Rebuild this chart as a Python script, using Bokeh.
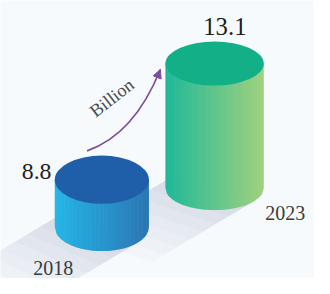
import math
import numpy as np
from bokeh.plotting import figure
from bokeh.models import Range1d, Arrow, NormalHead
from bokeh.core.properties import value
from bokeh.embed import file_html
from bokeh.resources import INLINE

# ---- data ----
years = ["2018", "2023"]
values = [8.8, 13.1]
value_labels = ["8.8", "13.1"]
unit_label = "Billion"

# ---- layout / style constants (offsets below are in reference pixels) ----
W, H = 314, 278
REF_W, REF_H = 330, 294
FS = W / REF_W               # font scale
X0, X1 = -0.8987, 1.886
Y0, Y1 = 3.294, 18.783
PXX = (X1 - X0) / REF_W      # data units per reference px (x)
PXY = (Y1 - Y0) / REF_H      # data units per reference px (y)
BASE = 6.165                 # value at cylinder floor
DEPTH = [0.0, 2.17]          # perspective lift of each cylinder
POS = [0, 1]
RX_PX = [49.5, 51.7]
RY_PX = [25.5, 23.3]
BODY = [("#25b6e8", "#2b76b3"), ("#1fb998", "#9fd17f")]
TOPS = ["#1f5fa9", "#13b088"]
BG = "#f6fafd"
PURPLE = "#7e4c9f"
SERIF = value("Liberation Serif")


def hex_rgb(h):
    h = h.lstrip("#")
    return tuple(int(h[i:i + 2], 16) for i in (0, 2, 4))


def mix(c1, c2, t):
    a, b = hex_rgb(c1), hex_rgb(c2)
    return "#%02x%02x%02x" % tuple(int(round(a[k] + (b[k] - a[k]) * t)) for k in range(3))


def fpx(n):
    return value("%.1fpx" % (n * FS))


p = figure(width=W, height=H, x_range=Range1d(X0, X1), y_range=Range1d(Y0, Y1),
           x_axis_type=None, y_axis_type=None, toolbar_location=None,
           output_backend="svg", min_border=0, background_fill_color=BG,
           border_fill_color=BG, outline_line_color=None)

tops = [v + d for v, d in zip(values, DEPTH)]
bases = [BASE + d for d in DEPTH]

# ---- shadows ----
dvec = np.array([-1.0, 0.6])
dvec = dvec / np.linalg.norm(dvec)
sx, sy = [], []
for i in range(len(values)):
    a, b = RX_PX[i], RY_PX[i]
    t = math.atan2(b, 0.6 * a)
    lr = np.array([a * math.cos(t), b * math.sin(t)])
    ul = -lr
    for j in range(1, 9):
        L = 125 * j / 8
        pts = [ul, lr, lr + L * dvec, ul + L * dvec]
        sx.append([POS[i] + q[0] * PXX for q in pts])
        sy.append([bases[i] - q[1] * PXY for q in pts])
p.patches(sx, sy, fill_color="#30404f", fill_alpha=0.02, line_color=None)

# ---- cylinder bodies (gradient strips) ----
N = 70
bx, by, bc = [], [], []
for i in range(len(values)):
    a = RX_PX[i] * PXX
    b = RY_PX[i] * PXY
    edges = np.linspace(-a, a, N + 1)
    for k in range(N):
        xl = edges[k]
        xr = edges[k + 1]
        xr_d = xr + (0.7 * PXX if k < N - 1 else 0)
        ybl = bases[i] - b * math.sqrt(max(0.0, 1 - (xl / a) ** 2))
        ybr = bases[i] - b * math.sqrt(max(0.0, 1 - (min(xr_d, a) / a) ** 2))
        bx.append([POS[i] + xl, POS[i] + xr_d, POS[i] + xr_d, POS[i] + xl])
        by.append([tops[i], tops[i], ybr, ybl])
        bc.append(mix(BODY[i][0], BODY[i][1], k / (N - 1)))
p.patches(bx, by, fill_color=bc, line_color=None)

# ---- cylinder tops ----
p.ellipse(x=POS, y=tops, width=[2 * r * PXX for r in RX_PX],
          height=[2 * r * PXY for r in RY_PX], fill_color=TOPS, line_color=None)

# ---- growth arrow ----
ax0 = POS[0] - 15.5 * PXX
ay0 = tops[0] + 30.5 * PXY
ax1 = POS[1] - 57 * PXX
ay1 = tops[1] - 6.3 * PXY
acx = ax0 + 49.5 * PXX
acy = ay0 + 17.3 * PXY
p.quadratic(x0=[ax0], y0=[ay0], x1=[ax1], y1=[ay1], cx=[acx], cy=[acy],
            line_color=PURPLE, line_width=1.7)
tdx, tdy = 27.5, 68.7
tn = math.hypot(tdx, tdy)
tdx, tdy = tdx / tn, tdy / tn
p.add_layout(Arrow(end=NormalHead(size=8.5, fill_color=PURPLE, line_color=PURPLE, line_width=1),
                   x_start=ax1 - 8 * tdx * PXX, y_start=ay1 - 8 * tdy * PXY,
                   x_end=ax1, y_end=ay1, line_alpha=0))

# ---- texts ----
p.text(x=[POS[0] - (RX_PX[0] + 3.4) * PXX], y=[tops[0] + 8.5 * PXY], text=[value_labels[0]],
       text_font=SERIF, text_font_size=fpx(25), text_align="right",
       text_baseline="alphabetic", text_color="#1e1e1e")
p.text(x=[POS[1] + 10.8 * PXX], y=[tops[1] + 39.4 * PXY], text=[value_labels[1]],
       text_font=SERIF, text_font_size=fpx(26), text_align="center",
       text_baseline="alphabetic", text_color="#1e1e1e")
p.text(x=[POS[1] + (RX_PX[1] + 1.6) * PXX], y=[bases[1] - 26.2 * PXY], text=[years[1]],
       text_font=SERIF, text_font_size=fpx(21), text_align="left",
       text_baseline="alphabetic", text_color="#3a3a3a")
p.text(x=[POS[0] - 72 * PXX], y=[bases[0] - 43 * PXY], text=[years[0]],
       text_font=SERIF, text_font_size=fpx(21), text_align="left",
       text_baseline="alphabetic", text_color="#3a3a3a")
p.text(x=[POS[0] + 10.5 * PXX], y=[tops[0] + 86.5 * PXY], text=[unit_label],
       text_font=SERIF, text_font_size=fpx(19), text_align="center",
       text_baseline="middle", angle=0.66, text_color="#4a4a4a")

open("out.html", "w").write(file_html(p, INLINE))
